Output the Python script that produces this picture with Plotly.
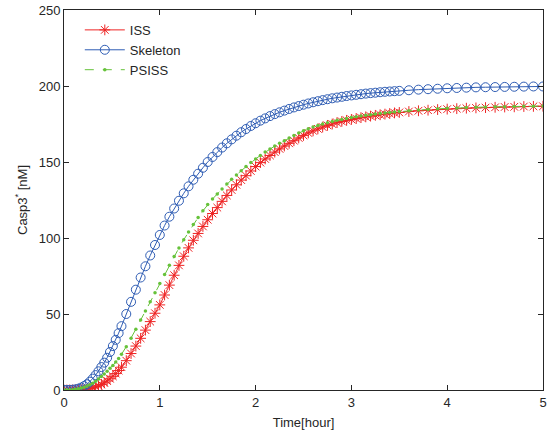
import plotly.graph_objects as go

# Sample times (hour)
T = [0, 0.03, 0.06, 0.09, 0.12, 0.15, 0.18, 0.21, 0.24, 0.27, 0.30, 0.33, 0.36, 0.39, 0.42, 0.45, 0.48, 0.51, 0.54, 0.57, 0.60,
     0.65, 0.70, 0.75, 0.80, 0.85, 0.90, 0.95, 1.00, 1.05, 1.10, 1.15, 1.20, 1.25, 1.30, 1.35, 1.40, 1.45, 1.50, 1.55, 1.60,
     1.65, 1.70, 1.75, 1.80, 1.85, 1.90, 1.95, 2.00, 2.05, 2.10, 2.15, 2.20, 2.25, 2.30, 2.35, 2.40, 2.45, 2.50, 2.55, 2.60,
     2.65, 2.70, 2.75, 2.80, 2.85, 2.90, 2.95, 3.00, 3.05, 3.10, 3.15, 3.20, 3.25, 3.30, 3.35, 3.40, 3.45, 3.50,
     3.60, 3.70, 3.80, 3.90, 4.00, 4.10, 4.20, 4.30, 4.40, 4.50, 4.60, 4.70, 4.80, 4.90, 5.00]

ISS = [0, 0, 0.01, 0.03, 0.07, 0.14, 0.25, 0.4, 0.65, 1.0, 1.5, 2.1, 2.8, 3.7, 4.7, 5.9, 7.4, 9.0, 10.8, 12.8, 15,
       19.3, 24, 28.9, 34, 39.4, 45, 50.5, 56, 62.5, 69, 75.5, 82, 88, 93.5, 98.5, 103, 107.6, 112, 116.1, 120,
       124.1, 128, 131.6, 135, 138.1, 141, 144.1, 147, 149.6, 152, 154.3, 156.5, 158.6, 160.5, 162.3, 164, 165.8, 167.5, 169.1, 170.5,
       171.8, 173, 174.1, 175, 175.9, 176.7, 177.4, 178, 178.6, 179.2, 179.7, 180.2, 180.7, 181.1, 181.5, 181.9, 182.3, 182.6,
       183.2, 183.7, 184.1, 184.5, 184.8, 185.1, 185.4, 185.6, 185.8, 186, 186.2, 186.3, 186.5, 186.6, 186.7]

SKELETON = [0, 0.01, 0.06, 0.2, 0.45, 0.9, 1.6, 2.6, 3.8, 5.5, 7.5, 9.8, 12.3, 15.1, 18, 21.2, 25, 28.9, 33, 37.4, 42,
            50, 58, 66, 74, 81.4, 88.5, 95.4, 102, 108.2, 114, 119.4, 124.5, 129.4, 134, 138.3, 142.3, 146.2, 150, 153.3, 156.5,
            159.5, 162.3, 164.9, 167.3, 169.6, 171.7, 173.7, 175.5, 177.2, 178.7, 180.2, 181.5, 182.7, 183.8, 184.9, 185.9, 186.8, 187.7, 188.5, 189.3,
            190, 190.7, 191.3, 191.9, 192.4, 192.9, 193.4, 193.8, 194.2, 194.6, 195, 195.3, 195.6, 195.9, 196.2, 196.4, 196.6, 196.8,
            197.2, 197.6, 197.9, 198.2, 198.5, 198.7, 198.9, 199.1, 199.2, 199.3, 199.4, 199.5, 199.6, 199.7, 199.7]

PSISS = [0, 0.01, 0.05, 0.2, 0.45, 0.8, 1.25, 1.8, 2.6, 3.5, 4.5, 5.8, 7.2, 8.9, 10.6, 12.4, 14.3, 16.2, 18.4, 20.8, 23.5,
         28.5, 34, 40, 46, 52, 58, 64, 70, 76, 82, 87.8, 93.5, 98.9, 104, 108.9, 113.5, 117.9, 122, 125.6, 129,
         132.3, 135.5, 138.6, 141.5, 144.3, 147, 149.6, 152, 154.3, 156.5, 158.6, 160.5, 162.3, 164, 165.8, 167.5, 169.1, 170.5, 171.8, 173,
         174, 175, 175.9, 176.7, 177.4, 178, 178.6, 179.2, 179.7, 180.2, 180.7, 181.1, 181.5, 181.9, 182.3, 182.6, 182.9, 183.2,
         183.7, 184.2, 184.6, 185, 185.3, 185.6, 185.8, 186, 186.2, 186.3, 186.4, 186.5, 186.6, 186.7, 186.8]

X_TICKS = [0, 1, 2, 3, 4, 5]
Y_TICKS = [0, 50, 100, 150, 200, 250]

RED = "#EE2424"
BLUE = "#2F5DB4"
GREEN = "#66C23A"
INK = "#262626"
FONT = "Liberation Sans, Arial, sans-serif"

fig = go.Figure()
fig.add_trace(go.Scatter(
    x=T, y=ISS, name="ISS", mode="lines+markers",
    line=dict(color=RED, width=1),
    marker=dict(symbol="asterisk-open", size=9, color=RED, line=dict(color=RED, width=1)),
))
fig.add_trace(go.Scatter(
    x=T, y=SKELETON, name="Skeleton", mode="lines+markers",
    line=dict(color=BLUE, width=1),
    marker=dict(symbol="circle-open", size=9, color=BLUE, line=dict(color=BLUE, width=1)),
))
fig.add_trace(go.Scatter(
    x=T, y=PSISS, name="PSISS", mode="lines+markers",
    line=dict(color=GREEN, width=1, dash="dash"),
    marker=dict(symbol="circle", size=3.5, color=GREEN),
))

axis_common = dict(
    showgrid=False, zeroline=False, showline=True, linecolor=INK, linewidth=1,
    mirror="ticks", ticks="inside", ticklen=5, tickcolor=INK, tickwidth=1,
    tickfont=dict(family=FONT, size=13, color=INK), automargin=False,
    ticklabeloverflow="allow",
)

fig.update_xaxes(range=[0, 5], tickvals=X_TICKS, ticktext=[str(v) for v in X_TICKS],
                 title=dict(text="Time[hour]", font=dict(family=FONT, size=13, color=INK), standoff=9),
                 **axis_common)
fig.update_yaxes(range=[0, 250], tickvals=Y_TICKS, ticktext=[str(v) for v in Y_TICKS],
                 title=dict(text="Casp3<sup>*</sup> [nM]", font=dict(family=FONT, size=13, color=INK), standoff=8),
                 **axis_common)

fig.update_layout(
    width=555, height=430,
    margin=dict(l=64, r=12, t=10, b=40),
    paper_bgcolor="white", plot_bgcolor="white",
    showlegend=True,
    legend=dict(x=0.033, y=0.987, xanchor="left", yanchor="top",
                bgcolor="rgba(0,0,0,0)", borderwidth=0, itemwidth=40,
                font=dict(family=FONT, size=13, color=INK),
                tracegroupgap=0),
)

fig.write_html("out.html", config={"displayModeBar": False},
               post_script="document.body.style.margin='0';")
